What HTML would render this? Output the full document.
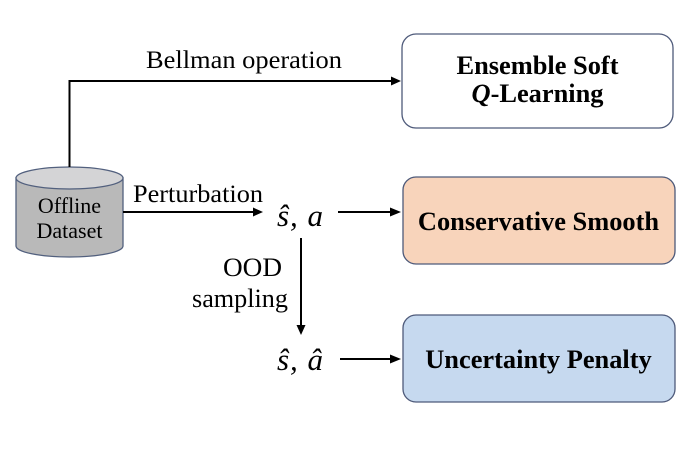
<!DOCTYPE html>
<html>
<head>
<meta charset="utf-8">
<style>
html,body{margin:0;padding:0;background:#fff;}
svg{display:block;}
text{font-family:"Liberation Serif","Times New Roman",serif;fill:#000;}
</style>
</head>
<body>
<svg width="694" height="450" viewBox="0 0 694 450" xmlns="http://www.w3.org/2000/svg">
  <!-- Cylinder -->
  <path d="M16,178 L16,246 A53.5,11 0 0 0 123,246 L123,178 Z" fill="#b9b9b9" stroke="#52607e" stroke-width="1.3"/>
  <ellipse cx="69.5" cy="178" rx="53.5" ry="11" fill="#d4d4d6" stroke="#52607e" stroke-width="1.3"/>
  <text x="69.5" y="213" font-size="22" text-anchor="middle">Offline</text>
  <text x="69.5" y="238" font-size="22" text-anchor="middle">Dataset</text>

  <!-- Bellman connector -->
  <path d="M69.5,167 V81 H393" fill="none" stroke="#000" stroke-width="2"/>
  <polygon points="391,76.5 401,81 391,85.5" fill="#000"/>
  <text x="146" y="68" font-size="25.5" textLength="196" lengthAdjust="spacingAndGlyphs">Bellman operation</text>

  <!-- Perturbation connector -->
  <path d="M123,212 H255" fill="none" stroke="#000" stroke-width="2"/>
  <polygon points="253,207.5 263,212 253,216.5" fill="#000"/>
  <text x="133" y="202" font-size="25" textLength="130" lengthAdjust="spacingAndGlyphs">Perturbation</text>

  <!-- math labels -->
  <text x="277" y="226" font-size="31" font-style="italic" textLength="46" lengthAdjust="spacing">ŝ, a</text>
  <text x="277" y="370" font-size="31" font-style="italic" textLength="46" lengthAdjust="spacing">ŝ, â</text>

  <!-- arrows to boxes -->
  <path d="M338,212 H392" fill="none" stroke="#000" stroke-width="2"/>
  <polygon points="390,207.5 401,212 390,216.5" fill="#000"/>
  <path d="M340,359 H392" fill="none" stroke="#000" stroke-width="2"/>
  <polygon points="390,354.5 401,359 390,363.5" fill="#000"/>

  <!-- OOD vertical -->
  <path d="M301,238 V327" fill="none" stroke="#000" stroke-width="2"/>
  <polygon points="296.5,325 301,335 305.5,325" fill="#000"/>
  <text x="223" y="276" font-size="26" textLength="59" lengthAdjust="spacingAndGlyphs">OOD</text>
  <text x="192" y="307" font-size="26" textLength="96" lengthAdjust="spacingAndGlyphs">sampling</text>

  <!-- Boxes -->
  <rect x="402" y="34" width="271" height="94" rx="14" ry="14" fill="#fff" stroke="#4e5a7a" stroke-width="1.3"/>
  <text x="537.5" y="74" font-size="26.4" font-weight="bold" text-anchor="middle">Ensemble Soft</text>
  <text x="537.5" y="102" font-size="26.4" font-weight="bold" text-anchor="middle"><tspan font-style="italic">Q</tspan>-Learning</text>

  <rect x="403" y="177" width="272" height="87" rx="13" ry="13" fill="#f8d4bb" stroke="#4e5a7a" stroke-width="1.3"/>
  <text x="538.5" y="230" font-size="26.4" font-weight="bold" text-anchor="middle">Conservative Smooth</text>

  <rect x="403" y="315" width="272" height="87" rx="13" ry="13" fill="#c6d9ef" stroke="#4e5a7a" stroke-width="1.3"/>
  <text x="538.5" y="368" font-size="26.4" font-weight="bold" text-anchor="middle">Uncertainty Penalty</text>
</svg>
</body>
</html>
